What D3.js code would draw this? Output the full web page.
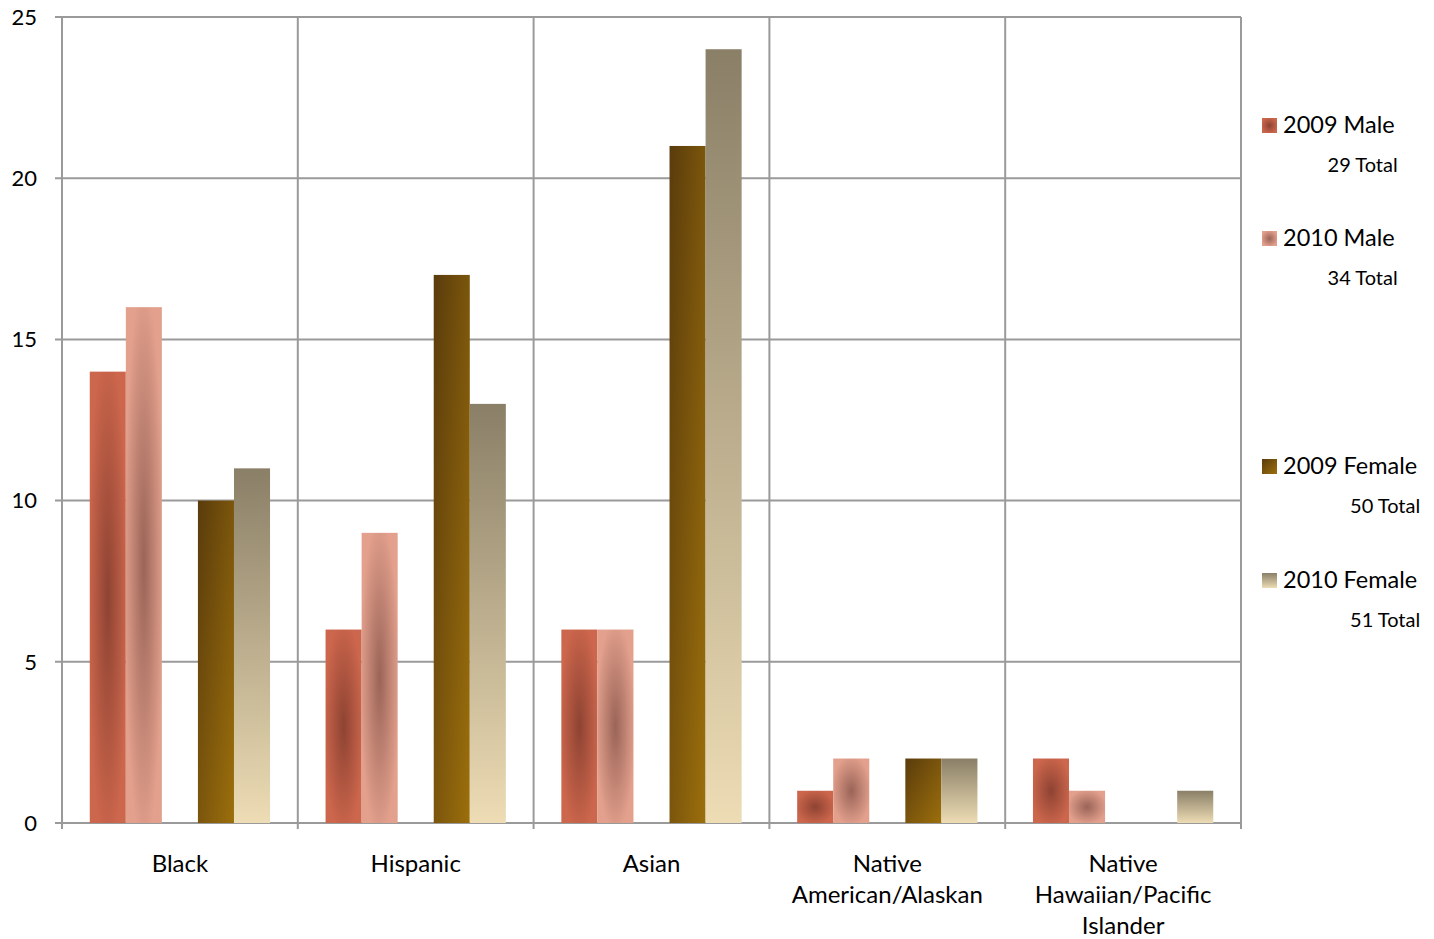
<!DOCTYPE html>
<html>
<head>
<meta charset="utf-8">
<script src="https://cdn.jsdelivr.net/npm/d3@7"></script>
<style>
  html, body { margin: 0; padding: 0; background: #fff; }
  svg text { font-family: "Lato", "Open Sans", sans-serif; fill: #000; }
</style>
</head>
<body>
<svg id="chart" width="1434" height="939"></svg>
<script>
// Enrolment counts by race/ethnicity, 2009 vs 2010, split by gender
const categories = [["Black"], ["Hispanic"], ["Asian"], ["Native", "American/Alaskan"], ["Native", "Hawaiian/Pacific", "Islander"]];
const male2009   = [14, 6, 6, 1, 2];
const male2010   = [16, 9, 6, 2, 1];
const female2009 = [10, 17, 21, 2, 0];
const female2010 = [11, 13, 24, 2, 1];
const seriesNames = ["2009 Male", "2010 Male", "2009 Female", "2010 Female"];
const seriesTotals = ["29 Total", "34 Total", "50 Total", "51 Total"];
const yTicks = [0, 5, 10, 15, 20, 25];

const series = [
  { name: seriesNames[0], total: seriesTotals[0], values: male2009, fill: "url(#g0)", slot: 0 },
  { name: seriesNames[1], total: seriesTotals[1], values: male2010, fill: "url(#g1)", slot: 1 },
  { name: seriesNames[2], total: seriesTotals[2], values: female2009, fill: "url(#g2)", slot: 3 },
  { name: seriesNames[3], total: seriesTotals[3], values: female2010, fill: "url(#g3)", slot: 4 }
];

const svg = d3.select("#chart");
const m = { left: 62, right: 1241, top: 17, bottom: 823 };

// gradients for bar fills
const defs = svg.append("defs");
function radial(id, inner, outer) {
  const g = defs.append("radialGradient").attr("id", id)
    .attr("cx", "50%").attr("cy", "50%").attr("r", "55%");
  g.append("stop").attr("offset", "0%").attr("stop-color", inner);
  g.append("stop").attr("offset", "100%").attr("stop-color", outer);
}
radial("g0", "#8e4333", "#cc664c");
radial("g1", "#9a6457", "#e3a08d");
const lg2 = defs.append("linearGradient").attr("id", "g2")
  .attr("x1", "0").attr("y1", "0").attr("x2", "1").attr("y2", "1");
lg2.append("stop").attr("offset", "0%").attr("stop-color", "#5a3c0c");
lg2.append("stop").attr("offset", "100%").attr("stop-color", "#9c6f0c");
const lg3 = defs.append("linearGradient").attr("id", "g3")
  .attr("x1", "0").attr("y1", "0").attr("x2", "0").attr("y2", "1");
lg3.append("stop").attr("offset", "0%").attr("stop-color", "#8a7f67");
lg3.append("stop").attr("offset", "100%").attr("stop-color", "#eddcb4");

const x = d3.scaleBand().domain(d3.range(categories.length)).range([m.left, m.right]).padding(0);
const slot = d3.scaleBand().domain(d3.range(5)).range([0, x.bandwidth()]).paddingOuter(0.77).paddingInner(0);
const y = d3.scaleLinear().domain([0, 25]).range([m.bottom, m.top]);

const gridColor = "#9a9a9a";

// horizontal gridlines
svg.append("g").selectAll("line").data(yTicks).join("line")
  .attr("x1", m.left - 7).attr("x2", m.right)
  .attr("y1", d => y(d)).attr("y2", d => y(d))
  .attr("stroke", gridColor).attr("stroke-width", 2);

// vertical category dividers
const bounds = d3.range(categories.length + 1).map(i => m.left + i * x.bandwidth());
svg.append("g").selectAll("line").data(bounds).join("line")
  .attr("x1", d => d).attr("x2", d => d)
  .attr("y1", m.top).attr("y2", m.bottom + 6)
  .attr("stroke", gridColor).attr("stroke-width", 2);

// bars
series.forEach(s => {
  svg.append("g").selectAll("rect").data(s.values).join("rect")
    .attr("x", (d, i) => x(i) + slot(s.slot))
    .attr("width", slot.bandwidth())
    .attr("y", d => y(d))
    .attr("height", d => y(0) - y(d))
    .attr("fill", s.fill);
});

// y tick labels
svg.append("g").selectAll("text").data(yTicks).join("text")
  .attr("x", 37).attr("y", d => y(d)).attr("dy", "0.35em")
  .attr("text-anchor", "end").attr("font-size", 22).text(d => d);

// category labels
categories.forEach((lines, i) => {
  const t = svg.append("text").attr("text-anchor", "middle").attr("font-size", 24)
    .attr("x", x(i) + x.bandwidth() / 2).attr("y", 872);
  lines.forEach((ln, j) => t.append("tspan").attr("x", x(i) + x.bandwidth() / 2).attr("dy", j ? 31 : 0).text(ln));
});

// legend
const legendY = [125, 238, 466, 580];
series.forEach((s, i) => {
  const g = svg.append("g");
  g.append("rect").attr("x", 1262).attr("y", legendY[i] - 7).attr("width", 15).attr("height", 15).attr("fill", s.fill);
  const name = g.append("text").attr("x", 1283).attr("y", legendY[i]).attr("dy", "0.35em")
    .attr("font-size", 23.5).text(s.name);
  const w = name.node().getComputedTextLength();
  g.append("text").attr("x", 1283 + w + 3).attr("y", legendY[i] + 40).attr("dy", "0.35em")
    .attr("text-anchor", "end").attr("font-size", 20).text(s.total);
});
</script>
</body>
</html>
